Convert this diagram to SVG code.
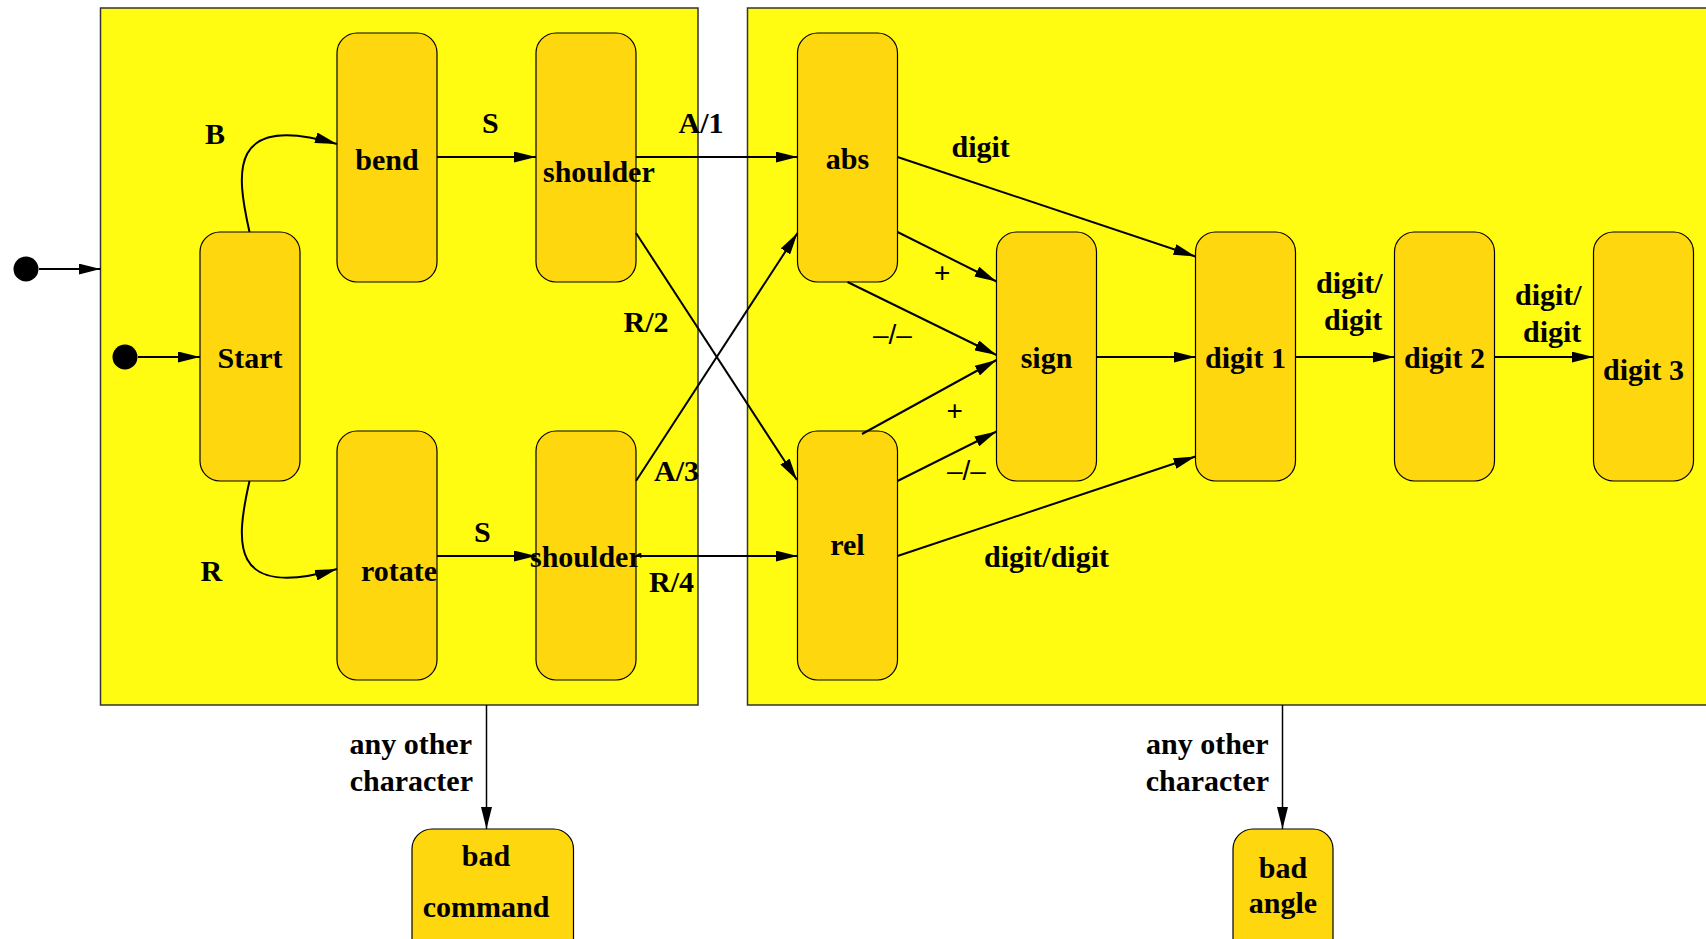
<svg xmlns="http://www.w3.org/2000/svg" width="1706" height="939" viewBox="0 0 1706 939">
<style>
.cont{fill:#FFFC12;stroke:#333;stroke-width:1.5}
.node{fill:#FFD70F;stroke:#000;stroke-width:1.2}
.t{font-family:"Liberation Serif","Times New Roman",serif;font-weight:bold;font-size:30px;fill:#000}
.n{font-family:"Liberation Sans",Arial,sans-serif;font-weight:normal;font-size:28px}
.m{text-anchor:middle}
.e{text-anchor:end}
.c{fill:none;stroke:#000;stroke-width:2}
.d{fill:none;stroke:#000;stroke-width:1.5}
</style>
<defs>
<marker id="ah" viewBox="0 0 22 11" refX="22" refY="5.5" markerWidth="22" markerHeight="11" markerUnits="userSpaceOnUse" orient="auto">
<path d="M0,0 L22,5.5 L0,11 Z" fill="#000"/>
</marker>
</defs>
<rect width="1706" height="939" fill="#fff"/>
<g id="containers">
<rect id="commandBox" class="cont" x="100.5" y="8" width="597.5" height="697"/>
<rect id="angleBox" class="cont" x="747.5" y="8" width="1000" height="697"/>
</g>
<g id="initial1"><circle cx="26" cy="269" r="12.5" fill="#000"/></g>
<g id="initial2"><circle cx="125" cy="357" r="12.5" fill="#000"/></g>
<g id="Start"><rect class="node" x="200" y="232" width="100" height="249" rx="20"/><text class="t m" x="250" y="368">Start</text></g>
<g id="bend"><rect class="node" x="337" y="33" width="100" height="249" rx="20"/><text class="t m" x="387" y="170">bend</text></g>
<g id="shoulder1"><rect class="node" x="536" y="33" width="100" height="249" rx="20"/><text class="t" x="543" y="182">shoulder</text></g>
<g id="rotate"><rect class="node" x="337" y="431" width="100" height="249" rx="20"/><text class="t" x="361" y="581">rotate</text></g>
<g id="shoulder2"><rect class="node" x="536" y="431" width="100" height="249" rx="20"/><text class="t" x="530" y="567">shoulder</text></g>
<g id="abs"><rect class="node" x="797.5" y="33" width="100" height="249" rx="20"/><text class="t m" x="847.5" y="169">abs</text></g>
<g id="rel"><rect class="node" x="797.5" y="431" width="100" height="249" rx="20"/><text class="t m" x="847.5" y="555">rel</text></g>
<g id="sign"><rect class="node" x="996.5" y="232" width="100" height="249" rx="20"/><text class="t m" x="1046.5" y="368">sign</text></g>
<g id="digit1"><rect class="node" x="1195.5" y="232" width="100" height="249" rx="20"/><text class="t m" x="1245.5" y="368">digit 1</text></g>
<g id="digit2"><rect class="node" x="1394.5" y="232" width="100" height="249" rx="20"/><text class="t m" x="1444.5" y="368">digit 2</text></g>
<g id="digit3"><rect class="node" x="1593.5" y="232" width="100" height="249" rx="20"/><text class="t m" x="1643.5" y="380">digit 3</text></g>
<g id="badCommand"><rect class="node" x="412" y="829" width="161.5" height="130" rx="20"/><text class="t m" x="486" y="866">bad</text><text class="t m" x="486" y="917">command</text></g>
<g id="badAngle"><rect class="node" x="1233" y="829" width="100" height="130" rx="20"/><text class="t m" x="1283" y="878">bad</text><text class="t m" x="1283" y="913">angle</text></g>
<g id="connectors">
<line class="c" x1="39" y1="269" x2="100.5" y2="269" marker-end="url(#ah)"/>
<line class="c" x1="138" y1="357" x2="200" y2="357" marker-end="url(#ah)"/>
<path class="c" d="M249.5,232 C236,172 228,112 337,144" marker-end="url(#ah)"/>
<path class="c" d="M249.5,481 C236,541 228,601 337,569" marker-end="url(#ah)"/>
<line class="c" x1="437" y1="157" x2="536" y2="157" marker-end="url(#ah)"/>
<line class="c" x1="636" y1="157" x2="797.5" y2="157" marker-end="url(#ah)"/>
<line class="c" x1="437" y1="556" x2="536" y2="556" marker-end="url(#ah)"/>
<line class="c" x1="636" y1="556" x2="797.5" y2="556" marker-end="url(#ah)"/>
<line class="c" x1="636" y1="233" x2="797" y2="480" marker-end="url(#ah)"/>
<line class="c" x1="636" y1="481" x2="797.5" y2="233" marker-end="url(#ah)"/>
<line class="c" x1="897.5" y1="157" x2="1195.5" y2="256.5" marker-end="url(#ah)"/>
<line class="c" x1="897.5" y1="232" x2="996.5" y2="281.5" marker-end="url(#ah)"/>
<line class="c" x1="847.5" y1="282" x2="996.5" y2="355" marker-end="url(#ah)"/>
<line class="c" x1="862" y1="434" x2="996.5" y2="360" marker-end="url(#ah)"/>
<line class="c" x1="897.5" y1="481" x2="996.5" y2="431.5" marker-end="url(#ah)"/>
<line class="c" x1="897.5" y1="556" x2="1195.5" y2="456.5" marker-end="url(#ah)"/>
<line class="c" x1="1096.5" y1="357" x2="1195.5" y2="357" marker-end="url(#ah)"/>
<line class="c" x1="1295.5" y1="357" x2="1394.5" y2="357" marker-end="url(#ah)"/>
<line class="c" x1="1494.5" y1="357" x2="1593.5" y2="357" marker-end="url(#ah)"/>
<line class="d" x1="486.5" y1="705" x2="486.5" y2="829" marker-end="url(#ah)"/>
<line class="d" x1="1282.5" y1="705" x2="1282.5" y2="829" marker-end="url(#ah)"/>
</g>
<g id="labels">
<text class="t" x="205" y="144">B</text>
<text class="t" x="482" y="133">S</text>
<text class="t" x="678.5" y="133">A/1</text>
<text class="t" x="623.5" y="332">R/2</text>
<text class="t" x="654" y="481">A/3</text>
<text class="t" x="200.5" y="581">R</text>
<text class="t" x="474" y="542">S</text>
<text class="t" x="649" y="592">R/4</text>
<text class="t e" x="472" y="754">any other</text>
<text class="t e" x="473" y="791">character</text>
<text class="t" x="951.5" y="157">digit</text>
<text class="t n" x="934" y="282">+</text>
<text class="t n" x="873" y="344">–/–</text>
<text class="t n" x="946.5" y="419.5">+</text>
<text class="t n" x="947" y="480">–/–</text>
<text class="t" x="1316" y="293">digit/</text>
<text class="t" x="1324" y="330">digit</text>
<text class="t" x="1515" y="305">digit/</text>
<text class="t" x="1523" y="342">digit</text>
<text class="t" x="984" y="567">digit/digit</text>
<text class="t e" x="1268.5" y="754">any other</text>
<text class="t e" x="1269" y="791">character</text>
</g>
</svg>
